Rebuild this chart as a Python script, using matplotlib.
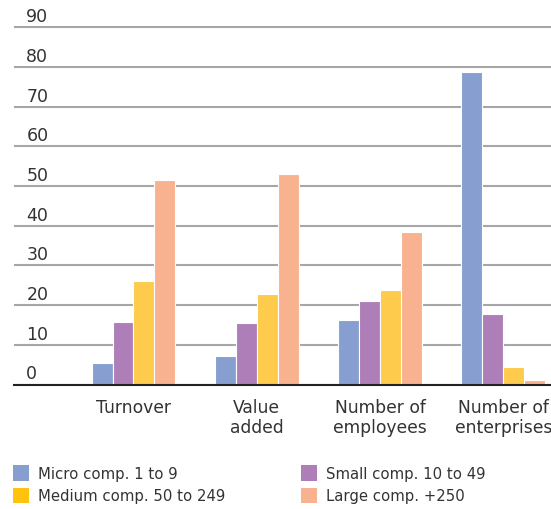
import matplotlib
matplotlib.use("Agg")
import matplotlib.pyplot as plt
import matplotlib.transforms as mtransforms
from matplotlib.patches import Patch
import numpy as np

categories = ["Turnover", "Value\nadded", "Number of\nemployees", "Number of\nenterprises"]
series_names = ["Micro comp. 1 to 9", "Small comp. 10 to 49",
                "Medium comp. 50 to 249", "Large comp. +250"]
micro = [5.5, 7.2, 16.3, 78.7]
small = [15.8, 15.5, 21.1, 17.8]
medium = [26.1, 22.8, 23.8, 4.5]
large = [51.5, 53.1, 38.4, 1.2]
y_ticks = [0, 10, 20, 30, 40, 50, 60, 70, 80, 90]

bar_colors = ["#879fd0", "#ad7eb7", "#fecb4c", "#f9b290"]
legend_colors = ["#879fd0", "#ad7eb7", "#ffc20e", "#f9b290"]

W, H, DPI = 551, 510, 100
fig = plt.figure(figsize=(W / DPI, H / DPI), dpi=DPI)
plt.rcParams["font.family"] = ["DejaVu Sans"]

ax = fig.add_axes([14 / W, (H - 385.5) / H, 1 - 14 / W, (385.5 - 20.4) / H])
ax.set_xlim(-0.969, 3.386)
ax.set_ylim(0, 92)

x = np.arange(len(categories))
slot = 0.170
for i, vals in enumerate([micro, small, medium, large]):
    ax.bar(x + (i - 1.5) * slot, vals, width=slot, color=bar_colors[i],
           edgecolor="white", linewidth=0.8, zorder=3)

# horizontal gridlines
ax.set_yticks(y_ticks)
ax.yaxis.grid(True, color="#a6a6a6", linewidth=1.5, zorder=1)
ax.tick_params(axis="y", length=0, labelleft=False)
for s in ["left", "right", "top"]:
    ax.spines[s].set_visible(False)
ax.spines["bottom"].set_color("#222222")
ax.spines["bottom"].set_linewidth(1.5)
ax.spines["bottom"].set_zorder(4)

# y labels sit just above their gridlines
offset = mtransforms.offset_copy(ax.get_yaxis_transform(), fig=fig, x=0, y=2, units="dots")
for v in y_ticks:
    ax.text(0.023, v, str(v), transform=offset, ha="left", va="bottom",
            fontsize=12.5, color="#333333")

ax.set_xticks(x)
ax.set_xticklabels(categories, fontsize=12.3, color="#333333", linespacing=1.15)
ax.tick_params(axis="x", length=0, pad=10)

# legend in two columns
h = [Patch(facecolor=c, edgecolor="none") for c in legend_colors]
kw = dict(frameon=False, fontsize=10.7, handlelength=1.1, handleheight=1.25,
          handletextpad=0.55, labelspacing=0.45, borderaxespad=0, borderpad=0,
          labelcolor="#333333")
fig.legend([h[0], h[2]], [series_names[0], series_names[2]], loc="upper left",
           bbox_to_anchor=(13 / W, 1 - 466 / H), **kw)
fig.legend([h[1], h[3]], [series_names[1], series_names[3]], loc="upper left",
           bbox_to_anchor=(301 / W, 1 - 466 / H), **kw)

fig.savefig("out.png", dpi=DPI)
